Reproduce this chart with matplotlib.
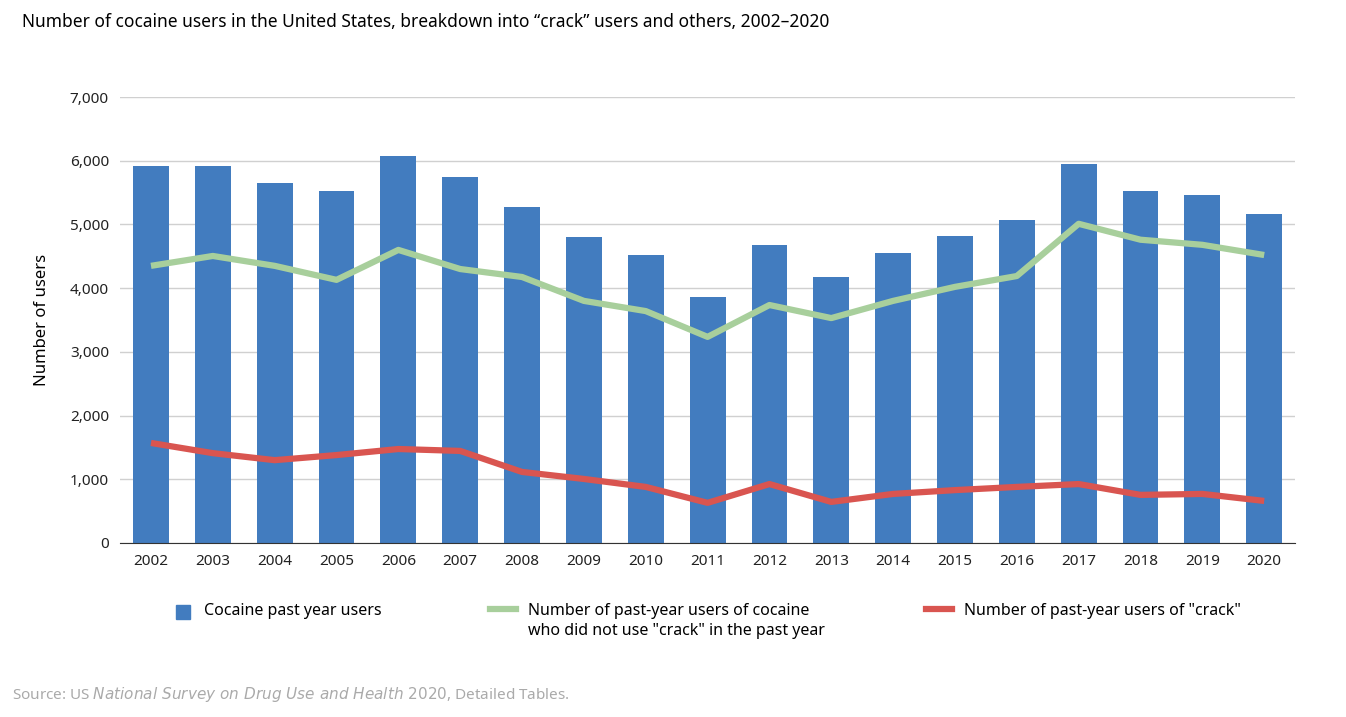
import matplotlib
matplotlib.use("Agg")
import matplotlib.pyplot as plt
from matplotlib.lines import Line2D

plt.rcParams["font.family"] = "Noto Sans"

years = [str(y) for y in range(2002, 2021)]
total = [5910, 5910, 5650, 5530, 6075, 5745, 5275, 4800, 4520, 3860, 4680, 4175, 4550, 4820, 5070, 5950, 5530, 5460, 5165]
non_crack = [4350, 4505, 4350, 4130, 4600, 4300, 4175, 3800, 3640, 3235, 3735, 3530, 3800, 4020, 4190, 5010, 4760, 4680, 4520]
crack = [1570, 1410, 1300, 1380, 1475, 1445, 1115, 1005, 880, 630, 925, 645, 770, 830, 880, 925, 755, 770, 660]

blue, green, red = "#427cbf", "#a8cf9c", "#d95550"

fig = plt.figure(figsize=(13.46, 7.17), dpi=100)
ax = fig.add_axes([0.0892, 0.2427, 0.873, 0.622])
x = list(range(len(years)))
ax.bar(x, total, width=0.58, color=blue, zorder=2)
ax.plot(x, non_crack, color=green, lw=4.5, zorder=3, solid_capstyle="butt")
ax.plot(x, crack, color=red, lw=4.5, zorder=3, solid_capstyle="butt")
ax.set_ylim(0, 7000)
ax.set_xlim(-0.5, len(years) - 0.5)
ax.set_yticks(range(0, 7001, 1000))
ax.set_yticklabels([f"{v:,}" for v in range(0, 7001, 1000)])
ax.set_xticks(x)
ax.set_xticklabels(years)
ax.grid(axis="y", color="#d0d0d0", lw=1, zorder=0)
for s in ["top", "right", "left"]:
    ax.spines[s].set_visible(False)
ax.spines["bottom"].set_color("#333333")
ax.tick_params(axis="both", length=0, labelsize=11, colors="#222222", pad=8)
ax.set_ylabel("Number of users", fontsize=12, labelpad=14)

fig.text(22/1346, 1-22/717, "Number of cocaine users in the United States, breakdown into “crack” users and others, 2002–2020",
         fontsize=12.5, fontweight="bold", va="center")

# legend
fig.add_artist(plt.Rectangle((176/1346, 1-619/717), 14/1346, 14/717, color=blue, transform=fig.transFigure))
fig.text(204/1346, 1-611/717, "Cocaine past year users", fontsize=11.5, va="center")
fig.add_artist(Line2D([490/1346, 516/1346], [1-609/717]*2, color=green, lw=4.5, transform=fig.transFigure))
fig.text(528/1346, 1-621/717, "Number of past-year users of cocaine\nwho did not use \"crack\" in the past year",
         fontsize=11.5, va="center", linespacing=1.3)
fig.add_artist(Line2D([926/1346, 952/1346], [1-609/717]*2, color=red, lw=4.5, transform=fig.transFigure))
fig.text(964/1346, 1-611/717, "Number of past-year users of \"crack\"", fontsize=11.5, va="center")

fig.text(12/1346, 1-694/717, "Source: US $\\it{National\\ Survey\\ on\\ Drug\\ Use\\ and\\ Health\\ 2020}$, Detailed Tables.",
         fontsize=11, color="#aaaaaa", va="center")

fig.savefig("out.png", dpi=100)
